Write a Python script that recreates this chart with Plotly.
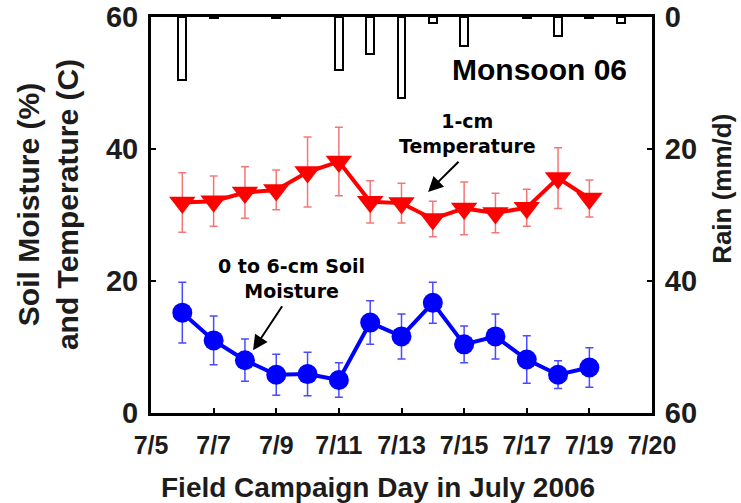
import plotly.graph_objects as go

# field campaign days (July 2006)
days = [6, 7, 8, 9, 10, 11, 12, 13, 14, 15, 16, 17, 18, 19]

temp = [31.9, 32.1, 33.4, 33.8, 36.5, 38.1, 32.0, 31.8, 29.4, 31.0, 30.3, 31.1, 35.6, 32.5]
temp_err = [4.5, 3.8, 3.9, 3.0, 5.3, 5.2, 3.2, 3.0, 2.7, 4.0, 3.0, 2.8, 4.6, 2.8]

moist = [15.2, 11.0, 8.0, 5.8, 5.9, 5.0, 13.7, 11.6, 16.7, 10.4, 11.6, 8.1, 5.8, 6.9]
moist_err = [4.6, 3.7, 3.2, 3.1, 3.3, 2.6, 3.3, 3.4, 3.1, 2.8, 3.4, 3.6, 2.1, 3.0]

rain_days = [6, 7, 9, 11, 12, 13, 14, 15, 17, 18, 19, 20]
rain = [9.5, 0.1, 0.1, 8.0, 5.6, 12.3, 0.9, 4.4, 0.1, 2.9, 0.1, 0.9]

x_ticks = [5, 7, 9, 11, 13, 15, 17, 19, 21]
x_labels = ['7/5', '7/7', '7/9', '7/11', '7/13', '7/15', '7/17', '7/19', '7/20']
y_ticks = [0, 20, 40, 60]

ink = '#1c1c1c'
font_main = 'Liberation Sans, Arial, sans-serif'
font_note = 'DejaVu Sans, Verdana, sans-serif'

fig = go.Figure()

## rain bars hanging from the top (reversed right axis)
fig.add_trace(go.Bar(
    x=rain_days, y=rain, yaxis='y2', width=0.25,
    marker=dict(color='white', line=dict(color='black', width=2)),
    showlegend=False))

## 1-cm temperature
fig.add_trace(go.Scatter(
    x=days, y=temp, mode='lines+markers',
    line=dict(color='#ff0000', width=4),
    marker=dict(symbol='triangle-down', size=23, color='#ff0000'),
    error_y=dict(type='data', array=temp_err, color='#f27878', thickness=1.5, width=4),
    showlegend=False))

## 0-6 cm soil moisture
fig.add_trace(go.Scatter(
    x=days, y=moist, mode='lines+markers',
    line=dict(color='#0000ff', width=4),
    marker=dict(symbol='circle', size=20, color='#0000ff'),
    error_y=dict(type='data', array=moist_err, color='#4a4aff', thickness=1.5, width=4),
    showlegend=False))

axis_common = dict(showline=True, linewidth=3, linecolor='black', ticks='inside',
                   ticklen=5, tickwidth=2, tickcolor='black', showgrid=False,
                   zeroline=False, automargin=False)

fig.update_layout(
    width=741, height=503,
    margin=dict(l=151, r=89, t=17, b=90),
    plot_bgcolor='white', paper_bgcolor='white',
    font=dict(family=font_main, color=ink),
    bargap=0,
    xaxis=dict(range=[5, 21], tickvals=x_ticks, ticktext=x_labels, mirror=True,
               tickfont=dict(size=25, family=font_main, weight='bold', color=ink),
               ticklabelstandoff=8, **axis_common),
    yaxis=dict(range=[0, 60], tickvals=y_ticks,
               tickfont=dict(size=29, family=font_main, weight='bold', color=ink),
               ticklabelstandoff=4, **axis_common),
    yaxis2=dict(range=[60, 0], tickvals=y_ticks, overlaying='y', side='right',
                tickfont=dict(size=29, family=font_main, weight='bold', color=ink),
                ticklabelstandoff=4, **axis_common),
)

## axis titles
fig.add_annotation(text='Soil Moisture (%)<br>and Temperature (C)', textangle=-90,
                   xref='paper', yref='paper', x=0, y=0.525, xshift=-103,
                   xanchor='center', yanchor='middle', showarrow=False,
                   font=dict(size=30, family=font_main, weight='bold', color=ink))
fig.add_annotation(text='Rain (mm/d)', textangle=-90,
                   xref='paper', yref='paper', x=1, y=0.566, xshift=70,
                   xanchor='center', yanchor='middle', showarrow=False,
                   font=dict(size=26, family=font_main, weight='bold', color=ink))
fig.add_annotation(text='Field Campaign Day in July 2006',
                   xref='paper', yref='paper', x=0.453, y=0, yshift=-74,
                   xanchor='center', yanchor='middle', showarrow=False,
                   font=dict(size=28, family=font_main, weight='bold', color=ink))

## labels inside the plot
fig.add_annotation(text='Monsoon 06', x=17.42, y=52.0, showarrow=False,
                   xanchor='center', yanchor='middle',
                   font=dict(size=30, family=font_main, weight='bold', color='black'))
fig.add_annotation(text='1-cm<br>Temperature', x=15.12, y=42.3, showarrow=False,
                   xanchor='center', yanchor='middle',
                   font=dict(size=19, family=font_note, weight='bold', color='black'))
fig.add_annotation(text='0 to 6-cm Soil<br>Moisture', x=9.5, y=20.4, showarrow=False,
                   xanchor='center', yanchor='middle',
                   font=dict(size=19, family=font_note, weight='bold', color='black'))

## arrows
fig.add_annotation(x=13.85, y=33.5, ax=14.87, ay=38.3, axref='x', ayref='y', text='',
                   showarrow=True, arrowhead=2, arrowsize=1.5, arrowwidth=2, arrowcolor='black')
fig.add_annotation(x=8.26, y=9.5, ax=9.22, ay=16.4, axref='x', ayref='y', text='',
                   showarrow=True, arrowhead=2, arrowsize=1.5, arrowwidth=2, arrowcolor='black')

## page body has a default margin, drop it so the figure fills the window
fig.write_html("out.html", config={'displayModeBar': False},
               post_script="document.body.style.margin='0';")
